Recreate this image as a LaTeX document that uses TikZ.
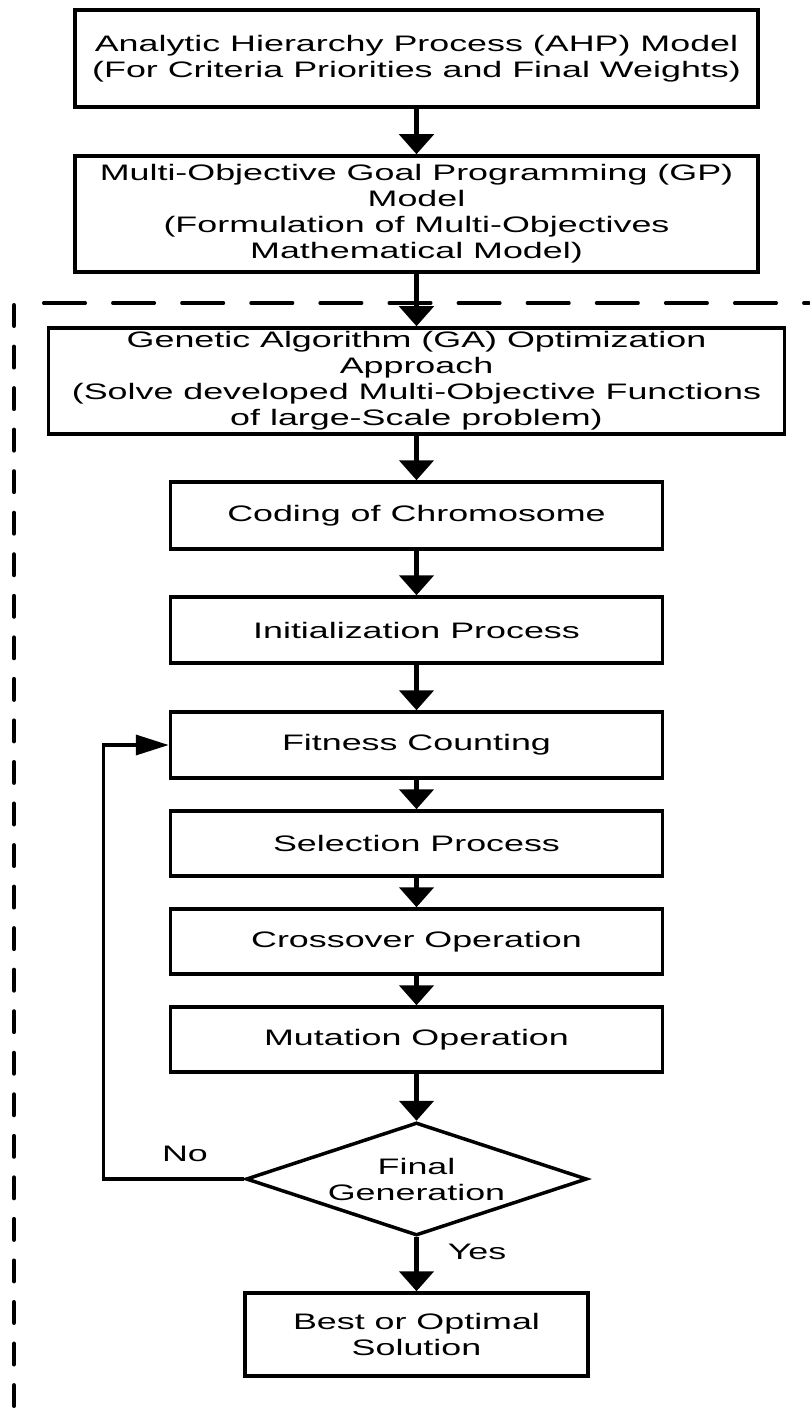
\documentclass[tikz,border=0pt]{standalone}
\usepackage{fontspec}
\setmainfont{Liberation Sans}[FakeStretch=1.6]
\usetikzlibrary{arrows.meta,shapes.geometric}

\tikzset{
  txt/.style={font=\fontsize{22.4}{26}\selectfont, align=center, inner sep=0pt},
  procbox/.style={txt, draw, line width=3.5pt, minimum width=#1, rectangle},
  flow/.style={line width=5pt, -{Triangle[length=20pt,width=34pt]}},
  loopback/.style={line width=3.5pt, -{Triangle[length=33pt,width=20pt]}},
  hdash/.style={line width=3.3pt, line cap=round, dash pattern=on 41.7pt off 27.4pt},
  vdash/.style={line width=4.5pt, line cap=round, dash pattern=on 20.5pt off 21.04pt},
}

\begin{document}
\begin{tikzpicture}[x=1pt,y=-1pt]
\useasboundingbox (0,0) rectangle (809,1412);

% boundary of the GA stage
\coordinate (hs) at (43.65,303);
\coordinate (he) at (809,303);
\coordinate (vs) at (14,305.25);
\coordinate (ve) at (14,1408);
\draw[hdash] (hs) -- (he);
\draw[vdash] (vs) -- (ve);

% process boxes
\node[procbox=683pt, minimum height=97pt] (ahp) at (416.5,58.5)
  {Analytic Hierarchy Process (AHP) Model\\(For Criteria Priorities and Final Weights)};
\node[procbox=683pt, minimum height=116pt] (gp) at (416.5,214)
  {Multi-Objective Goal Programming (GP)\\Model\\(Formulation of Multi-Objectives\\Mathematical Model)};
\node[procbox=736pt, minimum height=106pt] (ga) at (416.5,381)
  {Genetic Algorithm (GA) Optimization\\Approach\\(Solve developed Multi-Objective Functions\\of large-Scale problem)};
\node[procbox=492pt, minimum height=67pt] (cod) at (416.5,515.5) {Coding of Chromosome};
\node[procbox=492pt, minimum height=66pt] (ini) at (416.5,630) {Initialization Process};
\node[procbox=492pt, minimum height=66pt] (fit) at (416.5,745) {Fitness Counting};
\node[procbox=492pt, minimum height=65pt] (sel) at (416.5,843.5) {Selection Process};
\node[procbox=492pt, minimum height=65pt] (crs) at (416.5,941.5) {Crossover Operation};
\node[procbox=492pt, minimum height=65pt] (mut) at (416.5,1039.5) {Mutation Operation};
\node[txt, draw, line width=3.5pt, diamond, minimum width=341pt, minimum height=113pt,
      aspect=3] (dec) at (416.5,1179) {Final\\Generation};
\node[procbox=343pt, minimum height=83pt] (best) at (416.5,1334.5) {Best or Optimal\\Solution};

% main flow
\draw[flow] (ahp) -- (gp);
\draw[flow] (gp) -- (ga);
\draw[flow] (ga) -- (cod);
\draw[flow] (cod) -- (ini);
\draw[flow] (ini) -- (fit);
\draw[flow] (fit) -- (sel);
\draw[flow] (sel) -- (crs);
\draw[flow] (crs) -- (mut);
\draw[flow] (mut) -- (dec);
\draw[flow] (dec) -- (best);

% loop back to fitness evaluation
\draw[loopback] (dec.west) -- ++(-141,0) |- (fit.west);

\node[txt] (no) at (185,1154) {No};
\node[txt] (yes) at (477,1252) {Yes};
\end{tikzpicture}
\end{document}
